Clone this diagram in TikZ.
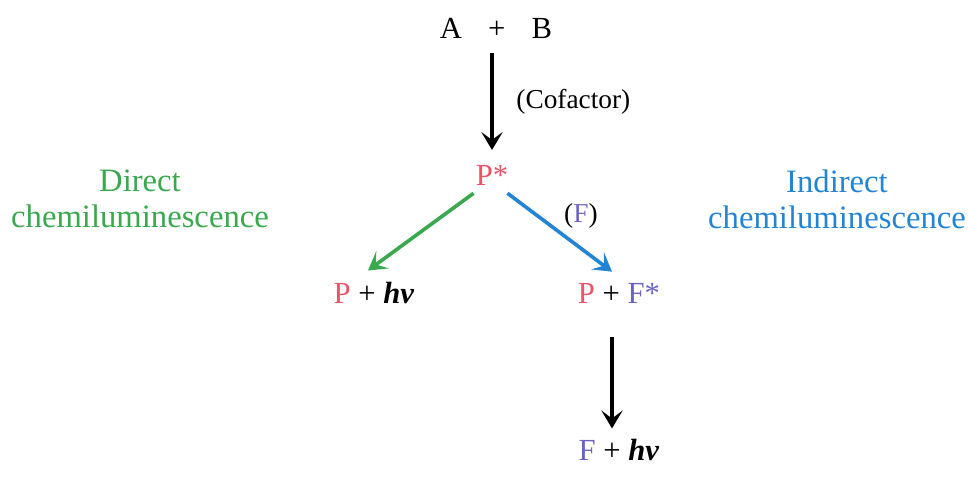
\documentclass[tikz,border=0pt]{standalone}
\usepackage{fontspec}
\setmainfont{Liberation Serif}
\usetikzlibrary{arrows.meta,calc}

\definecolor{pcol}{RGB}{236,84,104}
\definecolor{fcol}{RGB}{108,98,196}
\definecolor{dcol}{RGB}{58,168,78}
\definecolor{icol}{RGB}{36,132,212}

\newcommand{\Pc}{\textcolor{pcol}{P}}
\newcommand{\Fc}{\textcolor{fcol}{F}}
\newcommand{\hnu}{\textbf{\textit{hν}}}

\begin{document}
\begin{tikzpicture}[
  x=0.75pt, y=0.75pt,
  chem/.style={inner sep=0pt, font=\fontsize{23}{27}\selectfont},
  side/.style={inner sep=0pt, align=center, font=\fontsize{24.5}{27}\selectfont},
  lab/.style={inner sep=0pt, font=\fontsize{20.5}{25}\selectfont},
  arr/.style={-{Stealth[length=13.5pt, width=16pt, inset=6pt]}, line width=2.7pt}
]
\useasboundingbox (0,0) rectangle (968,-480);

% Reaction
\node[chem, anchor=base] (ab) at (496,-38) {A\hspace{0.85em}+\hspace{0.85em}B};
\node[chem, anchor=base] (pstar) at (492,-185) {\textcolor{pcol}{P*}};
\draw[arr, shorten <=11pt, shorten >=11pt] (ab.south -| pstar) -- node[lab, right=17pt]{(Cofactor)} (pstar);

% Products
\node[chem, anchor=base] (phv) at (374,-303) {\Pc{} + \hnu};
\node[chem, anchor=base] (pfstar) at (619,-303) {\Pc{} + \textcolor{fcol}{F*}};
\node[chem, anchor=base] (fhv) at (619,-460) {\Fc{} + \hnu};

% Two pathways
\draw[arr, dcol] ($(pstar.south west)+(-2,-8)$) -- ($(phv.north)+(-6,11)$);
\draw[arr, icol] ($(pstar.south east)+(-1,-8)$) -- node[lab, above right=2pt, text=black]{(\Fc)} ($(pfstar.north)+(-7,11)$);

% Emission of F*
\coordinate (fstart) at ($(pfstar.south)+(-7,-34)$);
\draw[arr, shorten >=7.5pt] (fstart) -- (fstart |- fhv.north);

% Side labels
\node[side, text=dcol] (direct) at (140,-199) {Direct\\chemiluminescence};
\node[side, text=icol] (indirect) at (837,-199) {Indirect\\chemiluminescence};

\end{tikzpicture}
\end{document}
